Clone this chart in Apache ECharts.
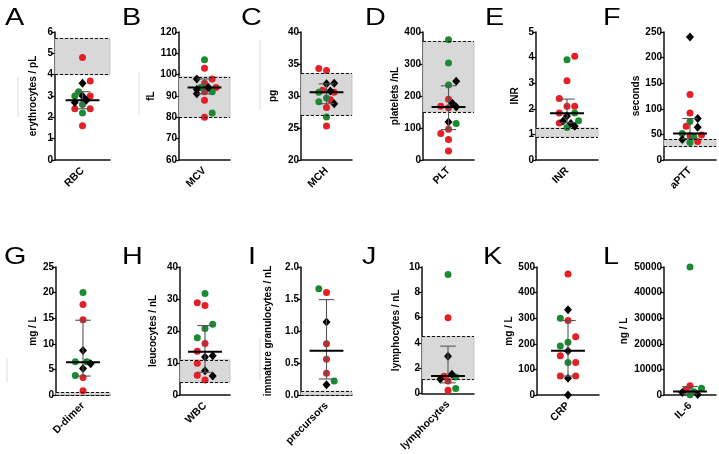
<!DOCTYPE html>
<html><head><meta charset="utf-8">
<script src="https://cdn.jsdelivr.net/npm/echarts@6/dist/echarts.min.js"></script>
<style>html,body{margin:0;padding:0;background:#fff}#c{width:719px;height:454px}</style>
</head><body><div id="c"></div>
<script>
// ---------- data ----------
const letters = ['A','B','C','D','E','F','G','H','I','J','K','L'];
const categories = ['RBC','MCV','MCH','PLT','INR','aPTT','D-dimer','WBC','precursors','lymphocytes','CRP','IL-6'];
const yNames = ['erythrocytes / pL','fL','pg','platelets /nL','INR','seconds','mg / L','leucocytes / nL','immature granulocytes / nL','lymphocytes / nL','mg / L','ng / L'];
const yMin  = [0, 60, 20, 0,   0, 0,   0,  0,  0,   0,  0,   0];
const yMax  = [6, 120, 40, 400, 5, 250, 25, 40, 2.0, 10, 500, 50000];
const yStep = [1, 10, 5, 100, 1, 50,  5,  10, 0.5, 2,  100, 10000];
const yDecimals = [0,0,0,0,0,0,0,0,1,0,0,0];
const refLow  = [4.0, 80, 27,   150, 0.9,  26, 0,   4,  0,    1.1, null, null];
const refHigh = [5.7, 99, 33.5, 370, 1.25, 40, 0.5, 11, 0.06, 4.5, null, null];
const medians = [2.8, 94, 30.6, 166, 1.83, 52, 6.4, 13.5, 0.69, 1.4, 173, 1400];
const lowerBars = [2.4, 91, 28.8, 95, 1.45, 42, 3.7, 7.1, 0.25, 0.85, 74, 400];
const upperBars = [3.2, 98, 31.9, 232, 2.38, 81, 14.6, 21.7, 1.49, 3.75, 291, 3300];

const redValues = [
  [4.8, 3.7, 3.0, 2.4, 2.4, 1.6],
  [103, 98, 96, 94, 92, 88, 80],
  [34.3, 34.0, 30.9, 30.6, 29.4, 28.2, 25.3],
  [190, 168, 163, 96, 83, 64, 28],
  [4.05, 3.1, 2.4, 2.1, 2.1, 1.84, 1.45],
  [128, 92, 66, 49, 48, 36],
  [17.7, 14.7, 3.4, 0.85],
  [28.8, 28.0, 16.1, 13.7, 9.9, 6.2, 4.7],
  [1.6, 0.8, 0.56, 0.34],
  [6.0, 1.38, 1.0, 0.27],
  [473, 291, 228, 153, 127, 74, 74],
  [3600, 2100]
];
const redJitter = [
  [0, 1, 1, -1, 1, 0],
  [0, 1, 0, 1.5, 0, 0, 0],
  [-1, 0, -0.5, 1, 0.5, 0, 0],
  [0, -1, 0, 0, -1, 0, 0],
  [1, 0, -1, 0, 1, -1, -1],
  [0, 0, -0.5, 1.5, 0, 1],
  [0, 0, 0, 0],
  [-1, 0, 0, -1, -1, -1, 0],
  [0, 0, 0, 0],
  [0, -0.5, 0, 0],
  [0, 0, 1, -1, 1, -1, 1],
  [0, -0.5]
];
const greenValues = [
  [3.2, 3.0, 2.6, 2.2],
  [107, 94, 92, 82],
  [30.6, 29.7, 29.1, 26.7],
  [376, 303, 234, 114],
  [3.92, 1.84, 1.53, 1.27],
  [75, 52, 45, 34],
  [20.0, 6.5, 6.5, 3.8],
  [31.7, 22.1, 20.8, 17.9],
  [1.66, 0.22],
  [9.4, 1.32, 0.4],
  [300, 206, 191, 127],
  [50000, 2600, 1300, 100]
];
const greenJitter = [
  [-0.5, -1, 0, 0],
  [0, -0.5, 1, 1],
  [-1, 0, -1, 0],
  [0, 0, 0, 1],
  [0, 1, 1.5, 0],
  [0, -1, 0.5, 0],
  [0, -1, 0.5, -1],
  [0, 1, 0, -1],
  [-1, 1],
  [0, 1, 1],
  [-1, 0, -1, 0],
  [0, 1.5, 0.5, 0]
];
const blackValues = [
  [3.6, 3.0, 2.7, 2.8],
  [98, 94, 93, 91],
  [31.9, 32.0, 30.8, 28.8],
  [246, 177, 166, 119],
  [1.72, 1.52, 1.43, 1.32],
  [240, 81, 64, 40],
  [8.7, 6.1, 5.2],
  [11.9, 12.3, 7.6, 5.9],
  [1.14, 0.16],
  [2.95, 1.52, 1.13],
  [333, 172, 65, 0],
  [1000, 200]
];
const blackJitter = [
  [0, 0, -1, 0.5],
  [-1, 0.5, -1, -1],
  [0, 1, 0.5, 1],
  [1, 0.5, 1, 0],
  [0, -0.5, 0.5, 1],
  [0, 1, 1, -1],
  [0, 1, 0],
  [0, 1, 0, 1],
  [0, 0],
  [0, 0.5, -1],
  [0, 0, 0, 0],
  [-1, 1]
];

// ---------- layout / style ----------
const FONT = 'Liberation Sans, Arial, sans-serif';
const RED = '#e41f26', GREEN = '#1b8b32';
const gridLeft  = [55, 179, 301, 423, 536, 664, 56, 180, 301, 422, 537, 664];
const gridWidth = [55, 51, 51, 51, 62, 52, 54, 50, 51, 52, 62, 52];
const rowTop = [32, 267];
const gridHeight = 128;
const unitPx = 7.7;
const nameGaps = [17, 23, 23, 22, 16, 23, 18, 22, 28, 21, 18, 35];
const letterPos = [[5,6],[122,6],[241,6],[365,6],[485,6],[603,6],[4,245],[122,245],[248,245],[362,245],[483,245],[603,245]];
const faintLines = [[18,77,117],[139,72,115],[260,40,110],[7,358,382],[260,338,380]];

const grids = [], xAxes = [], yAxes = [], series = [];
for (let i = 0; i < 12; i++) {
  const row = i < 6 ? 0 : 1;
  const half = gridWidth[i] / 2 / unitPx;
  grids.push({left: gridLeft[i], top: rowTop[row], width: gridWidth[i], height: gridHeight, containLabel: false});
  xAxes.push({
    type: 'category', gridIndex: i, data: [categories[i]], boundaryGap: true,
    axisLine: {onZero: false, lineStyle: {color: '#111', width: 1.5}},
    axisTick: {alignWithLabel: true, length: 4, lineStyle: {color: '#111', width: 1.3}},
    axisLabel: {rotate: 45, margin: 9, color: '#000', fontFamily: FONT, fontWeight: 'bold', fontSize: 10.5},
    splitLine: {show: false}
  });
  xAxes.push({type: 'value', gridIndex: i, min: -half, max: half, show: false,
    axisLine: {show: false, onZero: false}, splitLine: {show: false}});
  yAxes.push({
    type: 'value', gridIndex: i, min: yMin[i], max: yMax[i], interval: yStep[i],
    name: yNames[i], nameLocation: 'middle', nameRotate: 90, nameGap: nameGaps[i],
    nameTextStyle: {color: '#000', fontFamily: FONT, fontWeight: 'bold', fontSize: 10},
    axisLine: {show: true, onZero: false, lineStyle: {color: '#111', width: 1.5}},
    axisTick: {show: true, length: 4, lineStyle: {color: '#111', width: 1.3}},
    axisLabel: {margin: 2, color: '#000', fontFamily: FONT, fontWeight: 'bold', fontSize: 10,
      formatter: (v) => v.toFixed(yDecimals[i])},
    splitLine: {show: false}
  });
  const xi = 2 * i + 1;
  // reference range
  if (refLow[i] !== null) {
    series.push({
      type: 'scatter', xAxisIndex: xi, yAxisIndex: i, data: [], z: 1, silent: true,
      markArea: {silent: true, itemStyle: {color: '#d8d8d8', borderColor: '#bdbdbd', borderWidth: 0.8},
        data: [[{yAxis: refLow[i]}, {yAxis: refHigh[i]}]]},
      markLine: {silent: true, symbol: 'none', label: {show: false},
        lineStyle: {color: '#111', type: [3, 2], width: 1.2},
        data: [{yAxis: refLow[i]}, {yAxis: refHigh[i]}]}
    });
  }
  const groups = [[redValues, redJitter, RED, 'circle', 7], [greenValues, greenJitter, GREEN, 'circle', 7], [blackValues, blackJitter, '#000', 'diamond', [8, 9]]];
  groups.forEach(g => {
    series.push({
      type: 'scatter', xAxisIndex: xi, yAxisIndex: i, z: 3, symbol: g[3], symbolSize: g[4],
      itemStyle: {color: g[2], opacity: 1},
      data: g[0][i].map((v, k) => [g[1][i][k], v])
    });
  });
  series.push({
    type: 'custom', xAxisIndex: xi, yAxisIndex: i, z: 5, silent: true,
    data: [[0, medians[i], lowerBars[i], upperBars[i]]],
    renderItem: function (params, api) {
      const med = api.value(1), lo = api.value(2), hi = api.value(3);
      const mL = api.coord([-2.2, med]), mR = api.coord([2.2, med]);
      const top = api.coord([0, hi]), bot = api.coord([0, lo]);
      const tL = api.coord([-1, hi]), tR = api.coord([1, hi]);
      const bL = api.coord([-1, lo]), bR = api.coord([1, lo]);
      const thin = {stroke: '#555', lineWidth: 1.1};
      return {type: 'group', children: [
        {type: 'line', shape: {x1: top[0], y1: top[1], x2: bot[0], y2: bot[1]}, style: thin},
        {type: 'line', shape: {x1: tL[0], y1: tL[1], x2: tR[0], y2: tR[1]}, style: thin},
        {type: 'line', shape: {x1: bL[0], y1: bL[1], x2: bR[0], y2: bR[1]}, style: thin},
        {type: 'line', shape: {x1: mL[0], y1: mL[1], x2: mR[0], y2: mR[1]}, style: {stroke: '#000', lineWidth: 2}}
      ]};
    }
  });
}

const graphics = letters.map((t, i) => ({
  type: 'text', x: letterPos[i][0], y: letterPos[i][1], scaleX: 1.2,
  style: {text: t, fill: '#000', font: '24px ' + FONT, verticalAlign: 'top'}
}));
faintLines.forEach(l => graphics.push({type: 'line', shape: {x1: l[0], y1: l[1], x2: l[0], y2: l[2]}, style: {stroke: '#dcdcdc', lineWidth: 1}}));

const chart = echarts.init(document.getElementById('c'));
chart.setOption({
  animation: false,
  backgroundColor: '#fff',
  grid: grids, xAxis: xAxes, yAxis: yAxes, series: series, graphic: graphics
});
</script></body></html>
